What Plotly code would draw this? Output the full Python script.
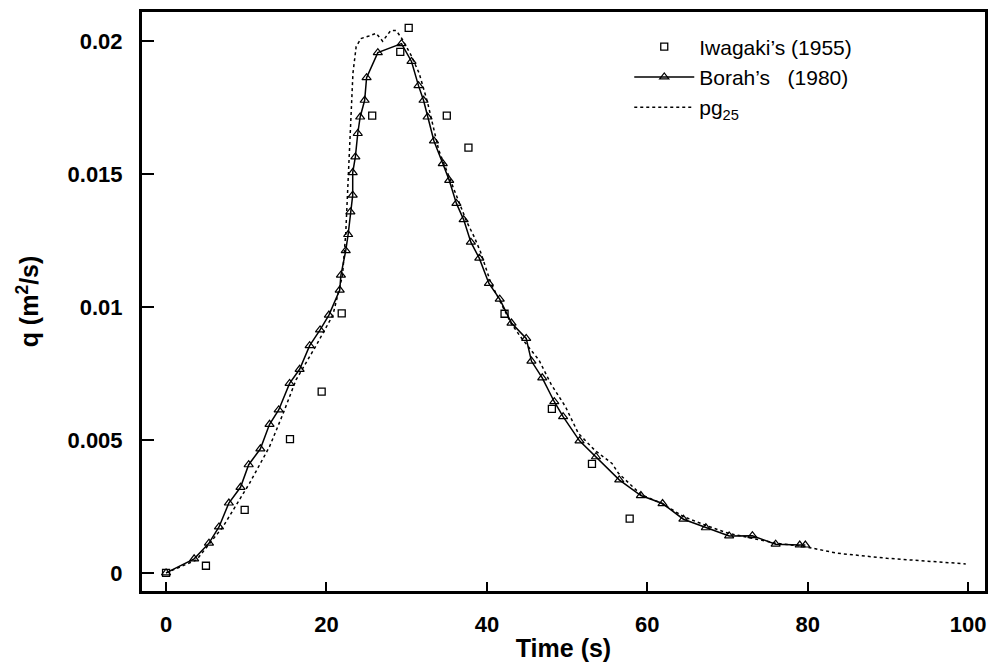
import plotly.graph_objects as go

# Borah's (1980) - solid line with triangles
borah_t = [0, 3.5, 5.35, 6.6, 7.83, 9.28, 10.3, 11.76, 12.9, 14.04, 15.4, 16.65, 17.9, 19.2, 20.3,
           21.65, 21.8, 22.4, 22.7, 22.98, 23.27, 23.27, 23.6, 23.9, 24.2, 24.76, 25.0, 26.4, 29.35,
           30.6, 31.47, 32.1, 32.6, 33.4, 34.5, 35.3, 36.2, 37.1, 38.0, 39.05, 40.25, 41.6, 43.07,
           44.9, 45.55, 46.9, 48.4, 49.5, 51.55, 53.6, 56.5, 59.2, 61.9, 64.5, 67.3, 70.2, 73.1,
           76.0, 79.0, 79.7]
borah_q = [0, 0.00053, 0.00112, 0.00173, 0.00263, 0.00322, 0.00407, 0.00467, 0.00559, 0.00613,
           0.00713, 0.00766, 0.00855, 0.00914, 0.0097, 0.01064, 0.0112, 0.01212, 0.01273, 0.01358,
           0.01421, 0.01506, 0.01565, 0.01653, 0.01715, 0.01778, 0.01863, 0.01957, 0.01991, 0.01924,
           0.01833, 0.01778, 0.01715, 0.01625, 0.0154, 0.01477, 0.0139, 0.01329, 0.01244, 0.01184,
           0.01089, 0.0103, 0.0094, 0.00882, 0.00797, 0.00734, 0.00644, 0.00588, 0.00497, 0.00437,
           0.0035, 0.00291, 0.00261, 0.00202, 0.0017, 0.00139, 0.0014, 0.00108, 0.00105, 0.00105]

# Iwagaki's (1955) - open squares
iwa_t = [0, 4.97, 9.8, 15.45, 19.4, 21.9, 25.7, 29.2, 30.25, 35.0, 37.7, 42.2, 48.1, 53.1, 57.8]
iwa_q = [0, 0.00027, 0.00237, 0.00503, 0.00682, 0.00976, 0.0172, 0.0196, 0.0205, 0.0172, 0.016,
         0.00975, 0.00617, 0.0041, 0.00204]

# pg25 - dotted line
pg_t = [0, 3.8, 7.1, 10.4, 12.9, 14.6, 16.2, 18.7, 20.8, 22.0, 22.4, 23.07, 23.3, 23.7, 24.3, 25.3,
        26.2, 27.0, 28.0, 28.7, 29.4, 30.5, 31.55, 32.6, 34.0, 35.8, 37.5, 38.4, 39.2, 40.5, 41.7,
        43.0, 44.2, 46.5, 48.0, 49.8, 51.4, 53.5, 55.6, 56.4, 59.2, 61.9, 64.5, 67.2, 70.1, 73.0,
        76.0, 79.6, 83.7, 89.9, 99.7]
pg_q = [0, 0.00049, 0.00174, 0.00337, 0.00475, 0.006, 0.00726, 0.00855, 0.0097, 0.0112, 0.01277,
        0.01778, 0.0188, 0.0198, 0.0201, 0.0202, 0.0203, 0.0200, 0.0204, 0.0204, 0.0201, 0.0195,
        0.0188, 0.0177, 0.0159, 0.0145, 0.0132, 0.01265, 0.01208, 0.0109, 0.0102, 0.0094, 0.00888,
        0.008, 0.0071, 0.00625, 0.00525, 0.0046, 0.00412, 0.00375, 0.00295, 0.0026, 0.00212,
        0.0018, 0.00149, 0.0013, 0.00112, 0.00099, 0.00074, 0.00055, 0.00034]

x_ticks = [0, 20, 40, 60, 80, 100]
y_ticks = [0, 0.005, 0.01, 0.015, 0.02]
y_tick_text = ["0", "0.005", "0.01", "0.015", "0.02"]

FONT = "Liberation Sans, Arial, sans-serif"

fig = go.Figure()
fig.add_trace(go.Scatter(
    x=iwa_t, y=iwa_q, mode="markers", name="Iwagaki\u2019s (1955)",
    marker=dict(symbol="square-open", size=7, color="black", line=dict(width=1.3)),
))
fig.add_trace(go.Scatter(
    x=borah_t, y=borah_q, mode="lines+markers", name="Borah\u2019s\u00a0\u00a0\u00a0(1980)",
    line=dict(color="black", width=1.5),
    marker=dict(symbol="triangle-up-open", size=8, color="black", line=dict(width=1.2)),
))
fig.add_trace(go.Scatter(
    x=pg_t, y=pg_q, mode="lines", name="pg<sub>25</sub>",
    line=dict(color="black", width=1.5, dash="dot"),
))

fig.update_layout(
    width=992, height=672,
    margin=dict(l=142, r=4, t=12, b=81),
    paper_bgcolor="white", plot_bgcolor="white",
    font=dict(family=FONT, size=20, color="black"),
    showlegend=True,
    legend=dict(
        x=0.578, y=0.975, xanchor="left", yanchor="top",
        bgcolor="rgba(0,0,0,0)", borderwidth=0,
        font=dict(family=FONT, size=21, color="black"),
        itemwidth=60, tracegroupgap=0,
    ),
)
fig.update_xaxes(
    range=[-3, 102.1], tickvals=x_ticks, ticktext=["<b>%d</b>" % v for v in x_ticks],
    ticks="inside", ticklen=9, tickwidth=1.5,
    tickcolor="black", showline=True, linecolor="black", linewidth=3, mirror=True,
    showgrid=False, zeroline=False,
    tickfont=dict(family=FONT, size=22, color="black"), ticklabelstandoff=12,
    title=dict(text="<b>Time (s)</b>", font=dict(family=FONT, size=25, color="black"), standoff=4),
)
fig.update_yaxes(
    range=[-0.00068, 0.0211], tickvals=y_ticks, ticktext=["<b>%s</b>" % t for t in y_tick_text],
    ticks="inside", ticklen=12, tickwidth=1.5,
    tickcolor="black", showline=True, linecolor="black", linewidth=3, mirror=True,
    showgrid=False, zeroline=False,
    tickfont=dict(family=FONT, size=22, color="black"), ticklabelstandoff=12,
    title=dict(text="<b>q (m<sup>2</sup>/s)</b>", font=dict(family=FONT, size=25, color="black"), standoff=22),
)

fig.write_html("out.html")
